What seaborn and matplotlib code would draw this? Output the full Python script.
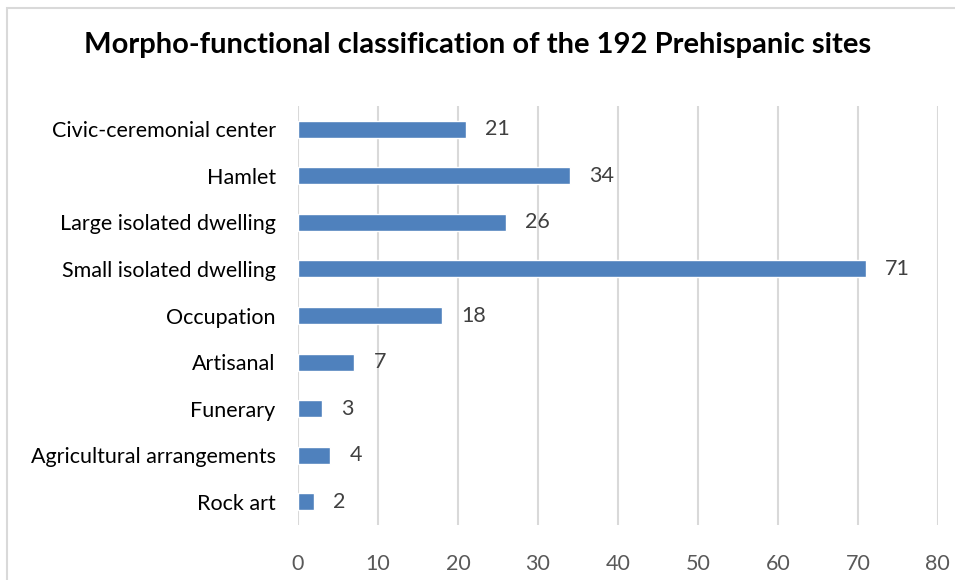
import matplotlib
matplotlib.use('Agg')
import matplotlib.pyplot as plt
import seaborn as sns
from matplotlib.patches import Rectangle

# data
categories = ['Civic-ceremonial center', 'Hamlet', 'Large isolated dwelling',
              'Small isolated dwelling', 'Occupation', 'Artisanal', 'Funerary',
              'Agricultural arrangements', 'Rock art']
counts = [21, 34, 26, 71, 18, 7, 3, 4, 2]
xticks = [0, 10, 20, 30, 40, 50, 60, 70, 80]

sns.set_style('white')
plt.rcParams['font.family'] = ['Lato', 'DejaVu Sans']

fig = plt.figure(figsize=(9.55, 5.8), dpi=100)
ax = fig.add_axes([0.312, 0.0948, 0.670, 0.7224])

sns.barplot(x=counts, y=categories, orient='h', color='#4F81BD',
            width=0.365, saturation=1, ax=ax)

ax.bar_label(ax.containers[0], padding=14, fontsize=15.5, color='#404040')

ax.set_xlim(0, 80)
ax.set_ylim(8.5, -0.5)
ax.set_xticks(xticks)
ax.grid(axis='x', color='#D9D9D9', linewidth=1.5)
ax.grid(axis='y', visible=False)
ax.set_axisbelow(True)
for s in ax.spines.values():
    s.set_visible(False)
ax.tick_params(axis='x', length=0, pad=21, labelsize=15.5, labelcolor='#595959')
ax.tick_params(axis='y', length=0, pad=16, labelsize=15.5, labelcolor='#000000')
ax.set_xlabel('')
ax.set_ylabel('')

fig.text(0.5, 0.922, 'Morpho-functional classification of the 192 Prehispanic sites',
         ha='center', va='center', fontsize=21, fontweight='bold', color='black')

# chart frame (only top and left edges fall inside the image)
fig.patches.append(Rectangle((7 / 955, -0.1), 1.2, 1.1 - 8 / 580,
                             transform=fig.transFigure, fill=False,
                             edgecolor='#D9D9D9', linewidth=1.5))

fig.savefig('out.png', dpi=100)
